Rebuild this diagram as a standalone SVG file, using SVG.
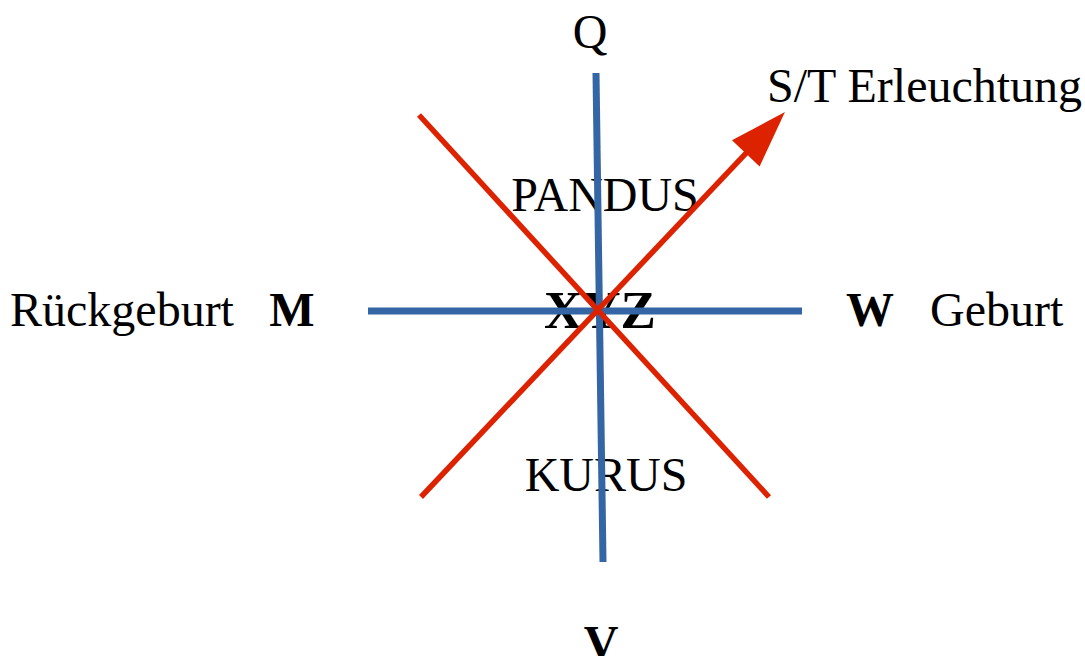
<svg xmlns="http://www.w3.org/2000/svg" width="1085" height="656" viewBox="0 0 1085 656">
<style>
.t{font-family:"Liberation Serif","Times New Roman",serif;font-size:48px;fill:#000}
.b{font-weight:bold}
.blue{stroke:#3465a4;stroke-width:7;fill:none}
.red{stroke:#dd2200;stroke-width:5.5;fill:none}
</style>
<defs>
<marker id="ah" markerUnits="userSpaceOnUse" markerWidth="60" markerHeight="40" refX="-50" refY="0" viewBox="-58 -20 60 40" orient="auto">
<path d="M0,0 L-57,-19 L-57,19 Z" fill="#dd2200"/>
</marker>
</defs>
<g id="labels">
<g id="node-center"><text class="t b" x="600" y="328" text-anchor="middle" style="font-size:53px">XYZ</text></g>
<g id="node-pandus"><text class="t" x="605" y="211" text-anchor="middle">PANDUS</text></g>
<g id="node-kurus"><text class="t" x="606" y="491" text-anchor="middle">KURUS</text></g>
<g id="node-q"><text class="t" x="590" y="48" text-anchor="middle">Q</text></g>
<g id="node-v"><text class="t b" x="601" y="659" text-anchor="middle">V</text></g>
<g id="node-m"><text class="t b" x="292" y="326" text-anchor="middle">M</text></g>
<g id="node-rueck"><text class="t" x="10" y="326">Rückgeburt</text></g>
<g id="node-w"><text class="t b" x="870" y="326" text-anchor="middle">W</text></g>
<g id="node-geburt"><text class="t" x="930" y="326">Geburt</text></g>
<g id="node-st"><text class="t" x="767" y="102">S/T Erleuchtung</text></g>
</g>
<g id="connectors">
<line class="blue" x1="596" y1="73" x2="603" y2="562"/>
<line class="blue" x1="368" y1="311" x2="802" y2="311"/>
<line class="red" x1="419" y1="115" x2="769" y2="497"/>
<line class="red" x1="421" y1="497" x2="750.6" y2="148.3" marker-end="url(#ah)"/>
</g>
</svg>
